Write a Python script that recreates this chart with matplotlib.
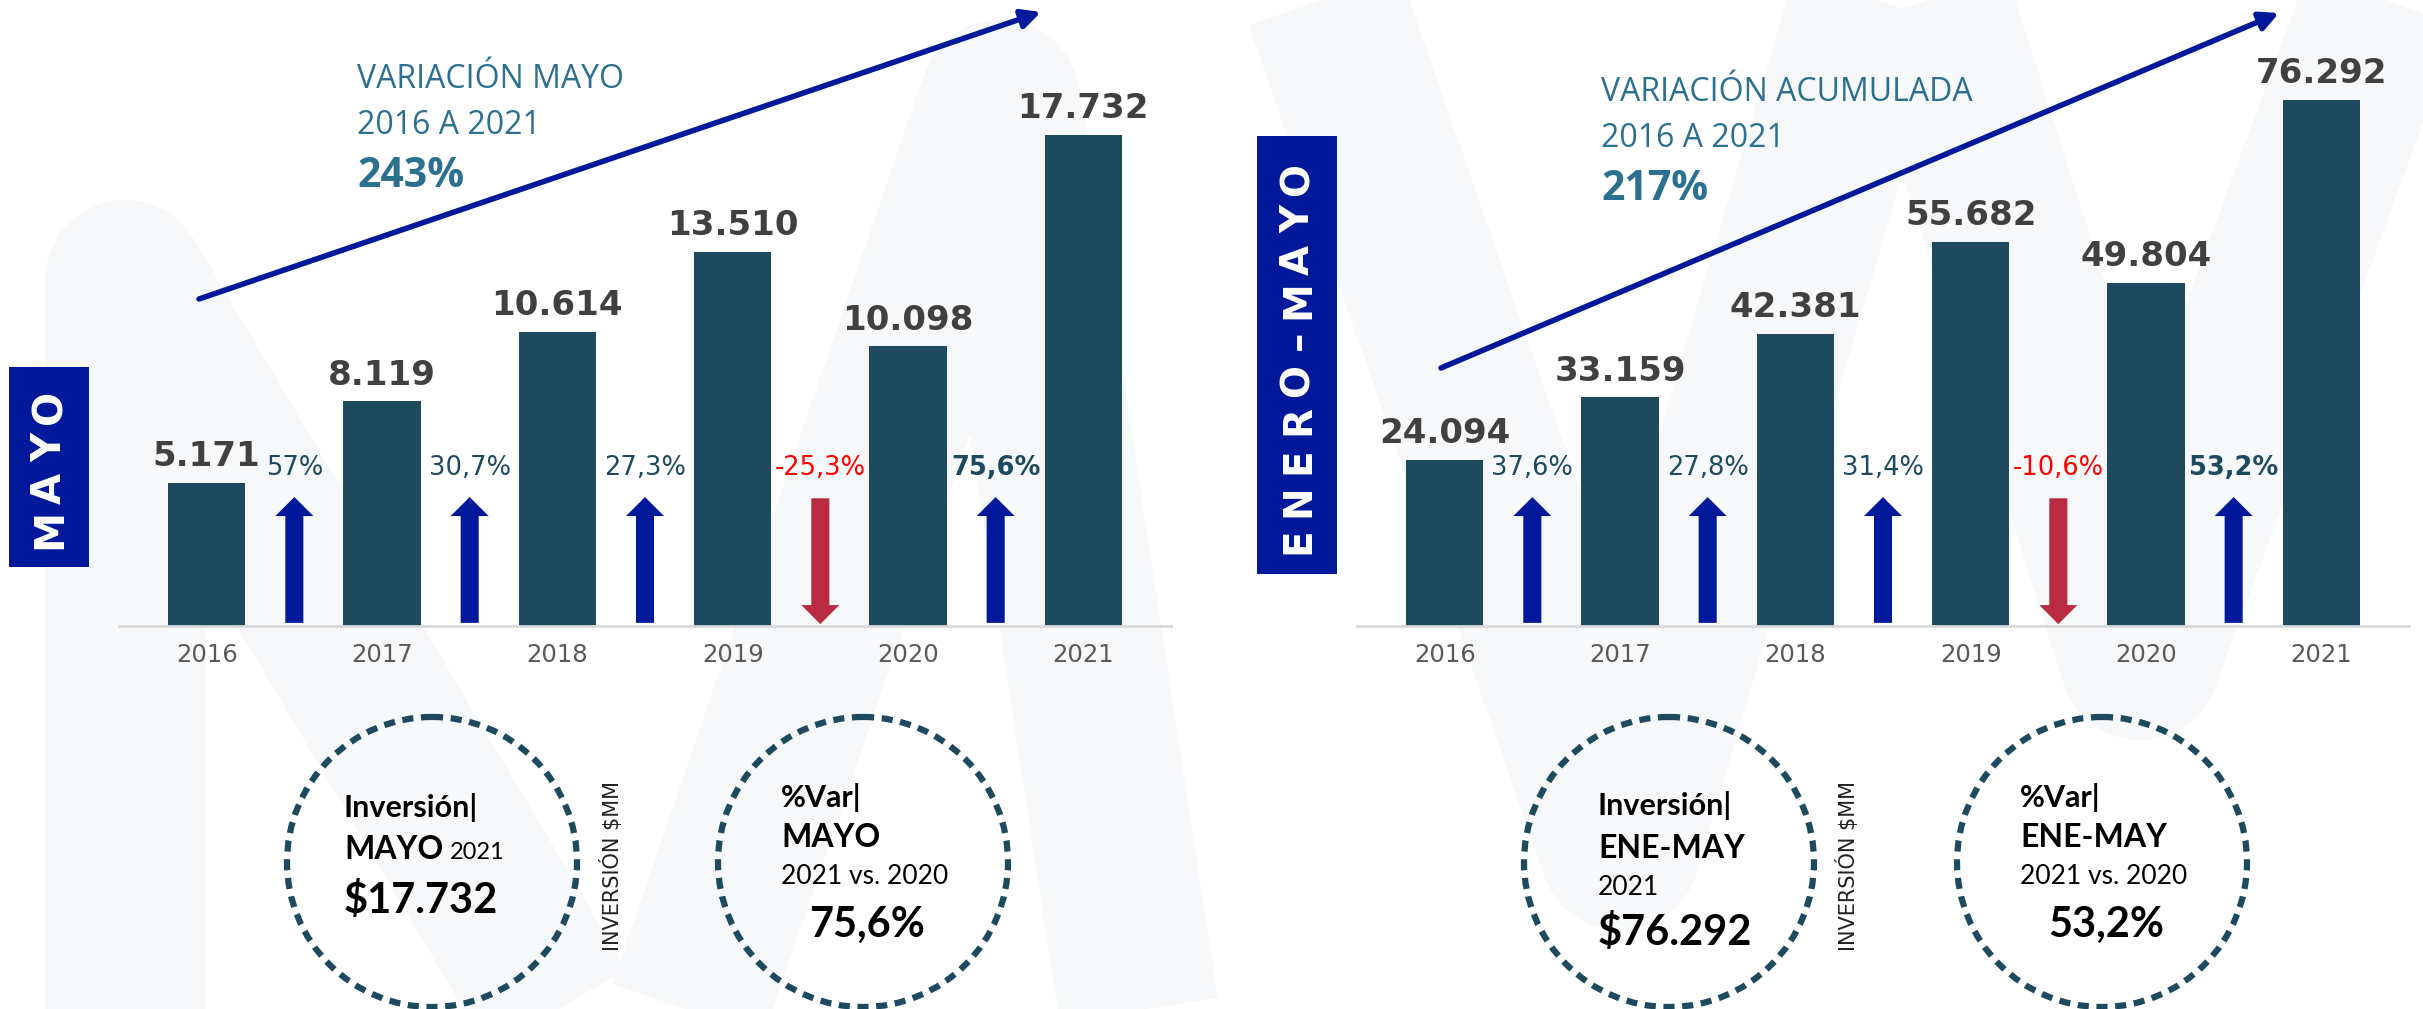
import matplotlib
matplotlib.use('Agg')
import matplotlib.pyplot as plt
from matplotlib.patches import Rectangle, Circle

plt.rcParams['font.family'] = ['DejaVu Sans']
plt.rcParams['lines.scale_dashes'] = False

# datos
anios = ['2016', '2017', '2018', '2019', '2020', '2021']
mayo = [5171, 8119, 10614, 13510, 10098, 17732]
var_mayo = [57, 30.7, 27.3, -25.3, 75.6]
ene_may = [24094, 33159, 42381, 55682, 49804, 76292]
var_ene_may = [37.6, 27.8, 31.4, -10.6, 53.2]

W, H = 2423, 1009
BARRA = '#1D4A5E'
AZUL = '#00199B'
ROJO = '#B92B41'
TITULO = '#2C7090'
MARCA = '#F7F8F9'

fig = plt.figure(figsize=(W / 100, H / 100), dpi=100)
fig.patch.set_facecolor('white')

# capa de fondo / textos en pixeles
fondo = fig.add_axes([0, 0, 1, 1], zorder=0)
fondo.set_xlim(0, W)
fondo.set_ylim(H, 0)
fondo.axis('off')

# marca de agua (trazos gruesos aproximados)
trazos = [
    [(125, 1150), (125, 280), (640, 1150)],
    [(640, 1150), (1000, 100), (1160, 1150)],
    [(1290, -100), (1620, 850), (1900, -100)],
    [(1900, -100), (2140, 660), (2420, -100)],
]
for t in trazos:
    xs, ys = zip(*t)
    fondo.plot(xs, ys, color=MARCA, lw=160 * 0.72, solid_joinstyle='round',
               solid_capstyle='butt', zorder=0)


def fmt(v):
    return f'{v:,}'.replace(',', '.')


def fmt_pct(v):
    return f'{v:g}'.replace('.', ',') + '%'


def panel(left, valores, variacion, ymax):
    ax = fig.add_axes([left / W, (H - 626) / H, 1052 / W, 626 / H], zorder=1)
    ax.patch.set_alpha(0)
    x = range(len(anios))
    ax.bar(x, valores, width=0.44, color=BARRA)
    ax.set_xlim(-0.5, 5.5)
    ax.set_ylim(0, ymax)
    for s in ['top', 'right', 'left']:
        ax.spines[s].set_visible(False)
    ax.spines['bottom'].set_color('#D9D9D9')
    ax.spines['bottom'].set_linewidth(2)
    ax.set_yticks([])
    ax.set_xticks(list(x))
    ax.set_xticklabels(anios, fontsize=17.5, color='#595959')
    ax.tick_params(axis='x', length=0, pad=12)

    for i, v in enumerate(valores):
        ax.annotate(fmt(v), xy=(i, v), xytext=(0, 12), textcoords='offset points',
                    ha='center', va='baseline', fontsize=24.5, fontweight='bold',
                    color='#404040')

    estilo = 'simple, head_length=1.37, head_width=2.74, tail_width=1.3'
    for i, v in enumerate(variacion):
        xc = i + 0.5
        if v >= 0:
            ini, fin, col = 0.005, 0.206, AZUL
        else:
            ini, fin, col = 0.204, 0.003, ROJO
        ax.annotate('', xy=(xc, fin), xytext=(xc, ini),
                    xycoords=('data', 'axes fraction'),
                    textcoords=('data', 'axes fraction'),
                    arrowprops=dict(arrowstyle=estilo, mutation_scale=10,
                                    color=col, lw=0, shrinkA=0, shrinkB=0))
        if v < 0:
            tcol, peso = '#FF0000', 'normal'
        elif i == len(variacion) - 1:
            tcol, peso = BARRA, 'bold'
        else:
            tcol, peso = BARRA, 'normal'
        ax.text(xc, 0.241, fmt_pct(v), transform=ax.get_xaxis_transform(),
                ha='center', va='baseline', fontsize=18.5, color=tcol, fontweight=peso)
    return ax


panel(119, mayo, var_mayo, 22607)
panel(1357, ene_may, var_ene_may, 90796)

# flechas de tendencia
for (x0, y0, x1, y1) in [(199, 299, 1041, 12), (1441, 368, 2279, 13)]:
    fondo.annotate('', xy=(x1, y1), xytext=(x0, y0),
                   arrowprops=dict(arrowstyle='-|>', lw=4, color=AZUL,
                                   mutation_scale=28, shrinkA=0, shrinkB=0))

# titulos de variacion
sans = ['Open Sans', 'DejaVu Sans']
for (x, y0, t1, t2) in [(357, 88, 'VARIACIÓN MAYO', '243%'),
                        (1601, 101, 'VARIACIÓN ACUMULADA', '217%')]:
    fondo.text(x, y0, t1, fontsize=23, color=TITULO, family=sans, va='baseline')
    fondo.text(x, y0 + 46, '2016 A 2021', fontsize=23, color=TITULO, family=sans, va='baseline')
    fondo.text(x, y0 + 99, t2, fontsize=29.5, color=TITULO, family=sans,
               fontweight='bold', va='baseline')


# cajas laterales, letras espaciadas una a una
def caja(x0, y0, w, h, letras, y_ini, y_fin, size):
    fondo.add_patch(Rectangle((x0, y0), w, h, color=AZUL, lw=0))
    n = len(letras)
    paso = (y_fin - y_ini) / (n - 1)
    for k, c in enumerate(letras):
        fondo.text(x0 + w / 2 + 1, y_ini + k * paso, c, rotation=90, ha='center',
                   va='center', color='white', fontsize=size, fontweight='bold')


caja(9, 367, 80, 200, 'MAYO', 529, 407, 29)
caja(1257, 136, 80, 438, 'ENERO–MAYO', 541, 179, 28)

# circulos punteados
for cx in [432, 863, 1669, 2102]:
    fondo.add_patch(Circle((cx, 862), 145, fill=False, edgecolor=BARRA,
                           lw=4.5, linestyle=(0, (8, 5.5))))

for x in [612, 1848]:
    fondo.text(x, 866, 'INVERSIÓN $MM', rotation=90, ha='center', va='center',
               fontsize=15, color='#222222')

lato = ['Lato', 'DejaVu Sans']
# circulo MAYO
fondo.text(344, 817, 'Inversión|', fontsize=22, fontweight='bold', family=lato, va='baseline')
fondo.text(344, 859, 'MAYO', fontsize=23, fontweight='bold', family=lato, va='baseline')
fondo.text(450, 859, '2021', fontsize=17, family=lato, va='baseline')
fondo.text(344, 913, '$17.732', fontsize=30, fontweight='bold', family=lato, va='baseline')
fondo.text(781, 807, '%Var|', fontsize=22, fontweight='bold', family=lato, va='baseline')
fondo.text(781, 847, 'MAYO', fontsize=23, fontweight='bold', family=lato, va='baseline')
fondo.text(781, 884, '2021 vs. 2020', fontsize=19, family=lato, va='baseline')
fondo.text(867, 937, fmt_pct(var_mayo[-1]), fontsize=30, fontweight='bold', family=lato,
           ha='center', va='baseline')

# circulo ENE-MAY
fondo.text(1598, 815, 'Inversión|', fontsize=22, fontweight='bold', family=lato, va='baseline')
fondo.text(1598, 858, 'ENE-MAY', fontsize=23, fontweight='bold', family=lato, va='baseline')
fondo.text(1598, 895, '2021', fontsize=19, family=lato, va='baseline')
fondo.text(1598, 945, '$76.292', fontsize=30, fontweight='bold', family=lato, va='baseline')
fondo.text(2020, 807, '%Var|', fontsize=22, fontweight='bold', family=lato, va='baseline')
fondo.text(2020, 847, 'ENE-MAY', fontsize=23, fontweight='bold', family=lato, va='baseline')
fondo.text(2020, 884, '2021 vs. 2020', fontsize=19, family=lato, va='baseline')
fondo.text(2106, 937, fmt_pct(var_ene_may[-1]), fontsize=30, fontweight='bold', family=lato,
           ha='center', va='baseline')

fig.savefig('out.png', dpi=100)
